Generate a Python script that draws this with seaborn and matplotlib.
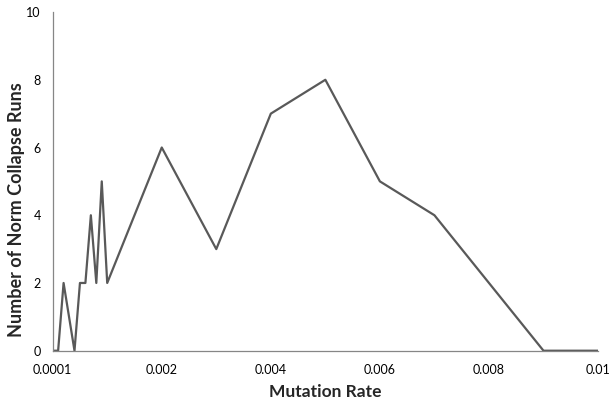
import matplotlib
matplotlib.use("Agg")
import matplotlib.pyplot as plt
import pandas as pd
import seaborn as sns

# data
mutation_rate = [0, 0.0001, 0.0002, 0.0004, 0.0005, 0.0006, 0.0007, 0.0008, 0.0009, 0.001,
                 0.002, 0.003, 0.004, 0.005, 0.006, 0.007, 0.008, 0.009, 0.01]
collapse_runs = [0, 0, 2, 0, 2, 2, 4, 2, 5, 2,
                 6, 3, 7, 8, 5, 4, 2, 0, 0]
x_ticks = [0, 0.002, 0.004, 0.006, 0.008, 0.01]
x_tick_labels = ["0.0001", "0.002", "0.004", "0.006", "0.008", "0.01"]
y_ticks = [0, 2, 4, 6, 8, 10]

sns.set_style("white")
plt.rcParams['font.family'] = ['Lato', 'DejaVu Sans']

df = pd.DataFrame({"rate": mutation_rate, "runs": collapse_runs})

fig = plt.figure(figsize=(6.09, 4.01), dpi=100)
ax = fig.add_axes([0.0865, 0.1254, 0.8955, 0.8446])

sns.lineplot(data=df, x="rate", y="runs", color="#595959", lw=1.6, ax=ax)

ax.set_xlim(0, 0.01)
ax.set_ylim(0, 10)
ax.set_xticks(x_ticks)
ax.set_xticklabels(x_tick_labels)
ax.set_yticks(y_ticks)

for side in ["top", "right"]:
    ax.spines[side].set_visible(False)
for side in ["left", "bottom"]:
    ax.spines[side].set_color("#868686")
    ax.spines[side].set_linewidth(0.9)

ax.tick_params(axis="both", direction="out", length=3.5, width=0.9, color="#868686",
               labelsize=9, labelcolor="#000000", pad=5)
ax.tick_params(axis="x", pad=6)

ax.set_xlabel("Mutation Rate", fontsize=12.5, fontweight="bold", labelpad=6)
ax.set_ylabel("Number of Norm Collapse Runs", fontsize=13, fontweight="bold")
# label sits a bit below the middle of the axis, as in the reference
ax.yaxis.set_label_coords(-0.05, 0.416)

fig.savefig("out.png", dpi=100)
